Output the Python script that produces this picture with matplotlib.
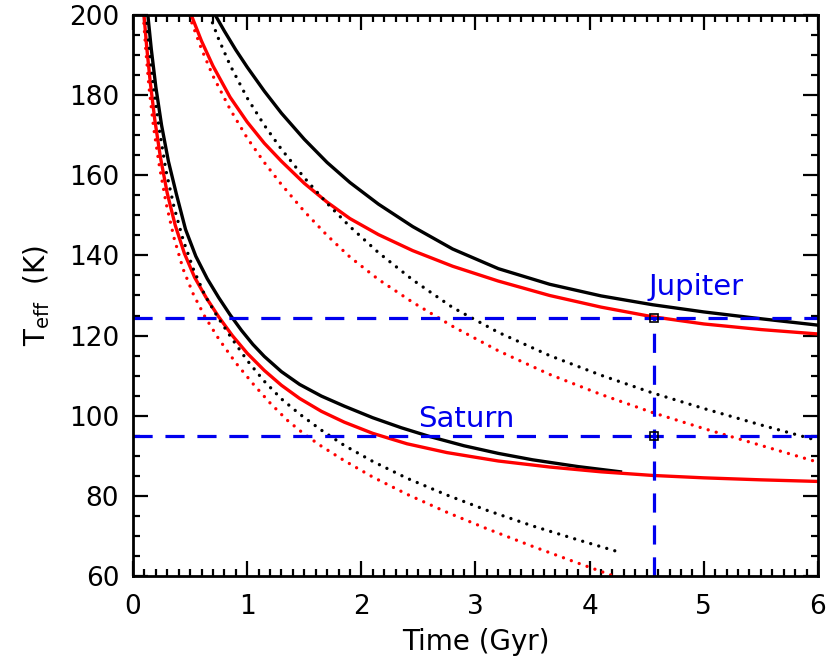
import matplotlib
matplotlib.use("Agg")
import matplotlib.pyplot as plt
from matplotlib.ticker import MultipleLocator

# Saturn-like tracks (lower set)
sat_bs_t = [0.13, 0.16, 0.20, 0.25, 0.31, 0.38, 0.46, 0.55, 0.65, 0.75, 0.85, 0.95, 1.05, 1.15, 1.3,
            1.46, 1.65, 1.85, 2.1, 2.35, 2.6, 2.9, 3.2, 3.5, 3.9, 4.27]
sat_bs_T = [200, 191.5, 182, 172.5, 163.5, 155.3, 146.5, 139.8, 134.2, 129.5, 125.2, 121.3, 117.8, 114.8, 111.0,
            107.8, 104.9, 102.4, 99.5, 97.0, 94.8, 92.5, 90.6, 89.0, 87.3, 86.0]

sat_rs_t = [0.096, 0.12, 0.15, 0.19, 0.24, 0.30, 0.37, 0.45, 0.54, 0.64, 0.75, 0.87, 1.0, 1.15, 1.3,
            1.46, 1.65, 1.85, 2.1, 2.4, 2.75, 3.2, 3.65, 4.1, 4.55, 5.0, 5.5, 6.0]
sat_rs_T = [200, 192, 183.5, 174, 164.5, 155.5, 147.5, 140.5, 134.5, 129.5, 124.7, 120.0, 115.6, 111.3, 107.6,
            104.3, 101.1, 98.4, 95.6, 93.0, 90.8, 88.7, 87.2, 86.0, 85.1, 84.5, 84.0, 83.6]

sat_bd_t = [0.115, 0.14, 0.18, 0.23, 0.29, 0.36, 0.44, 0.53, 0.63, 0.74, 0.86, 1.0, 1.15, 1.3, 1.46,
            1.65, 1.85, 2.1, 2.4, 2.75, 3.1, 3.5, 3.9, 4.22]
sat_bd_T = [200, 192.5, 182, 171.5, 161, 152, 143.8, 136.5, 130, 124.7, 119.5, 113.8, 108.6, 104.2, 100.4,
            96.4, 92.6, 88.6, 84.4, 80.2, 76.4, 72.5, 69.0, 66.3]

sat_rd_t = [0.09, 0.11, 0.14, 0.18, 0.23, 0.29, 0.36, 0.44, 0.53, 0.63, 0.75, 0.9, 1.05, 1.2, 1.35,
            1.5, 1.65, 1.85, 2.1, 2.4, 2.75, 3.1, 3.5, 3.9, 4.25]
sat_rd_T = [200, 192, 182, 172, 162.5, 153, 144.3, 136.5, 130.2, 124.7, 119.2, 113.2, 108.0, 103.2, 98.9,
            95.4, 92.4, 88.8, 84.7, 80.4, 75.9, 71.8, 67.4, 63.2, 59.6]

# Jupiter-like tracks (upper set)
jup_bs_t = [0.72, 0.80, 0.90, 1.0, 1.15, 1.3, 1.5, 1.7, 1.9, 2.15, 2.45, 2.8, 3.2, 3.65, 4.1, 4.55, 5.0, 5.5, 6.0]
jup_bs_T = [200, 196, 191.3, 187, 181, 175.5, 169, 163.2, 158.2, 152.8, 147.2, 141.6, 136.7, 132.8, 129.9, 127.7,
            125.9, 124.2, 122.6]

jup_rs_t = [0.51, 0.6, 0.7, 0.85, 1.0, 1.15, 1.3, 1.5, 1.7, 1.9, 2.15, 2.45, 2.8, 3.2, 3.65, 4.1, 4.55, 5.0, 5.5, 6.0]
jup_rs_T = [200, 193.5, 187.3, 179.5, 173.3, 168, 163.5, 158, 153.3, 149.2, 145.2, 141.2, 137.3, 133.6, 130.0, 127.1,
            124.7, 122.9, 121.5, 120.4]

jup_bd_t = [0.67, 0.75, 0.85, 1.0, 1.15, 1.3, 1.5, 1.7, 1.9, 2.15, 2.45, 2.8, 3.2, 3.65, 4.1, 4.55, 5.0, 5.5, 6.0]
jup_bd_T = [200, 194, 187.5, 179.3, 172.5, 166.5, 159.4, 153, 147.2, 140.7, 133.9, 127, 120.8, 115, 110.1, 105.7,
            101.8, 97.7, 93.8]

jup_rd_t = [0.49, 0.6, 0.7, 0.85, 1.0, 1.15, 1.3, 1.5, 1.7, 1.9, 2.15, 2.45, 2.8, 3.2, 3.65, 4.1, 4.55, 5.0, 5.5, 6.0]
jup_rd_T = [200, 191.5, 184.8, 176.5, 169.3, 163.2, 157.7, 151, 145, 139.6, 134.0, 128.3, 122.3, 116.2, 110.3, 105.3,
            100.8, 96.8, 92.6, 88.4]

# observed values
teff_jup = 124.5
teff_sat = 95.0
age_ss = 4.56

plt.rcParams['font.family'] = 'DejaVu Sans'
fig = plt.figure(figsize=(8.35, 6.63), dpi=100)
ax = fig.add_axes([0.1593, 0.1312, 0.8203, 0.8462])

lw = 2.4
dot = dict(ls=(0, (0.01, 2.5)), dash_capstyle='round')
ax.plot(jup_bs_t, jup_bs_T, color='black', lw=lw)
ax.plot(jup_rs_t, jup_rs_T, color='red', lw=lw)
ax.plot(jup_bd_t, jup_bd_T, color='black', lw=lw, **dot)
ax.plot(jup_rd_t, jup_rd_T, color='red', lw=lw, **dot)
ax.plot(sat_bs_t, sat_bs_T, color='black', lw=lw)
ax.plot(sat_rs_t, sat_rs_T, color='red', lw=lw)
ax.plot(sat_bd_t, sat_bd_T, color='black', lw=lw, **dot)
ax.plot(sat_rd_t, sat_rd_T, color='red', lw=lw, **dot)

dash = (0, (6, 4))
blue = '#0000ee'
ax.axhline(teff_jup, color=blue, lw=2.3, ls=dash)
ax.axhline(teff_sat, color=blue, lw=2.3, ls=dash)
ax.plot([age_ss, age_ss], [60, teff_jup], color=blue, lw=2.3, ls=dash)
ax.plot([age_ss, age_ss], [teff_jup, teff_sat], ls='none', marker='s',
        ms=6, mfc='none', mec='black', mew=1.2)

ax.text(4.93, 128.6, 'Jupiter', color=blue, fontsize=21, ha='center', va='bottom')
ax.text(2.92, 95.8, 'Saturn', color=blue, fontsize=21, ha='center', va='bottom')

ax.set_xlim(0, 6)
ax.set_ylim(60, 200)
ax.xaxis.set_major_locator(MultipleLocator(1))
ax.xaxis.set_minor_locator(MultipleLocator(0.1))
ax.yaxis.set_major_locator(MultipleLocator(20))
ax.yaxis.set_minor_locator(MultipleLocator(5))
ax.tick_params(which='both', direction='in', top=True, right=True, width=1.6,
               labelsize=19, colors='black')
ax.tick_params(which='major', length=11, pad=10)
ax.tick_params(axis='x', which='major', pad=13)
ax.tick_params(which='minor', length=5)
for s in ax.spines.values():
    s.set_linewidth(2)

ax.set_xlabel('Time (Gyr)', fontsize=20, labelpad=6)
ax.set_ylabel(r'T$_{\rm eff}$  (K)', fontsize=20, labelpad=12)

fig.savefig('out.png', dpi=100)
